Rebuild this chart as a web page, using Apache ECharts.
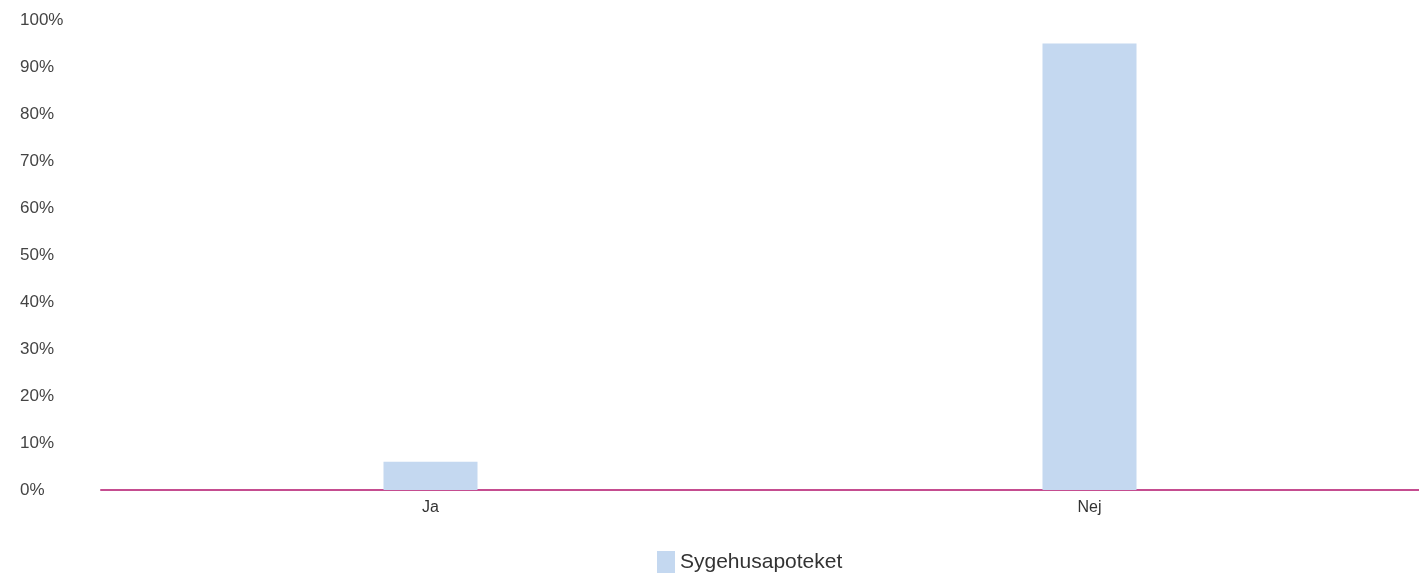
<!DOCTYPE html>
<html>
<head>
<meta charset="utf-8">
<script src="https://cdn.jsdelivr.net/npm/echarts@6/dist/echarts.min.js"></script>
<style>
  html, body { margin: 0; padding: 0; background: #fff; }
  #chart { width: 1419px; height: 579px; }
</style>
</head>
<body>
<div id="chart"></div>
<script>
const categories = ['Ja', 'Nej']
const seriesName = 'Sygehusapoteket'
const values = [6, 95]

let chart = echarts.init(document.getElementById('chart'))
chart.setOption({
    animation: false,
    textStyle: { fontFamily: 'Liberation Sans, Arial, sans-serif' },
    legend: {
        data: [seriesName],
        bottom: 1,
        left: 652,
        itemWidth: 18,
        itemHeight: 22,
        itemGap: 8,
        icon: 'rect',
        textStyle: { fontSize: 21, color: '#333' }
    },
    grid: {
        left: 101,
        right: 0,
        top: 20,
        bottom: 89
    },
    xAxis: {
        type: 'category',
        data: categories,
        boundaryGap: true,
        axisLine: { lineStyle: { color: '#c54d90', width: 2 } },
        axisTick: { show: false },
        axisLabel: { color: '#333', fontSize: 16, margin: 10 }
    },
    yAxis: {
        type: 'value',
        min: 0,
        max: 100,
        interval: 10,
        axisLine: { show: false },
        axisTick: { show: false },
        splitLine: { show: false },
        axisLabel: {
            formatter: '{value}%',
            color: '#444',
            fontSize: 17,
            align: 'left',
            margin: 81
        }
    },
    series: [
        {
            name: seriesName,
            type: 'bar',
            data: values,
            barWidth: 94,
            itemStyle: { color: '#c4d8f0' }
        }
    ]
})
</script>
</body>
</html>
